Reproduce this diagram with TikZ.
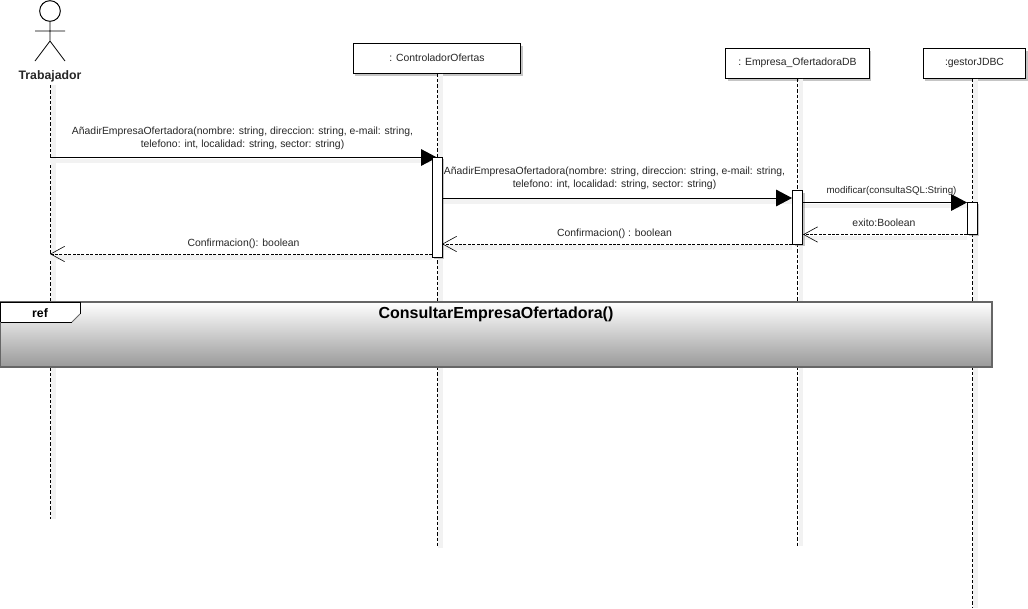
\documentclass[tikz,border=0pt]{standalone}
\usepackage{fontspec}
\setmainfont{Liberation Sans}
\usetikzlibrary{arrows.meta, shadows, positioning}

\tikzset{
    objeto/.style={draw=black, fill=white, line width=0.75pt, minimum height=22.5pt, font=\fontsize{7.8}{9}\selectfont, text=black!85,
        drop shadow={shadow xshift=1.5pt, shadow yshift=-2pt, fill=black!45, opacity=0.5}},
    activacion/.style={draw=black, fill=white, line width=0.75pt, minimum width=7.5pt, inner sep=0pt,
        drop shadow={shadow xshift=1.5pt, shadow yshift=-1.5pt, fill=black!45, opacity=0.5}},
    vida/.style={draw=black, line width=0.6pt, dash pattern=on 2.6pt off 1.4pt},
    sombra/.style={draw=black!5, line width=3.5pt},
    llamada/.style={draw=black, line width=0.75pt, -{Triangle[length=12pt, width=12.5pt]}},
    retorno/.style={draw=black, line width=0.6pt, dash pattern=on 2.2pt off 1.1pt, -{Straight Barb[length=10.5pt, width=11.5pt, line width=0.45pt]}},
    mensaje/.style={inner sep=0pt, align=center, font=\fontsize{7.8}{10}\selectfont, text=black!85},
}

\begin{document}
\begin{tikzpicture}[x=0.75pt, y=-0.75pt]
    \useasboundingbox (0, 0) rectangle (1028, 608);

    % lifeline ends
    \coordinate (finTrab) at (50, 519);
    \coordinate (finCtrl) at (437, 548);
    \coordinate (finEmp) at (797.5, 546);
    \coordinate (finGes) at (972, 608);

    % actor
    \node[circle, draw=black, fill=white, line width=0.75pt, minimum size=15.5pt, inner sep=0pt] (cabeza) at (50, 11) {};
    \coordinate (cadera) at (50, 41);
    \coordinate (brazoI) at (35, 31);
    \coordinate (brazoD) at (65, 31);
    \coordinate (pieI) at (35, 61);
    \coordinate (pieD) at (65, 61);
    \draw[line width=0.6pt] (cabeza) -- (cadera) (brazoI) -- (brazoD) (pieI) -- (cadera) -- (pieD);
    \node[font=\bfseries\fontsize{9.2}{10}\selectfont, text=black!85, inner sep=0pt] (trab) at (50, 76) {Trabajador};

    % objects
    \node[objeto, minimum width=125.5pt] (ctrl) at (437, 58) {: ControladorOfertas};
    \node[objeto, minimum width=107.5pt] (emp) at (797.5, 63) {: Empresa\_OfertadoraDB};
    \node[objeto, minimum width=77pt] (ges) at (974.5, 63) {:gestorJDBC\hspace{3pt}};

    % lifelines, shadow first
    \draw[sombra, transform canvas={xshift=2.5pt}] (trab.south) ++(0, 3) -- (finTrab);
    \draw[sombra, transform canvas={xshift=2.5pt}] (ctrl.south) -- (finCtrl);
    \draw[sombra, transform canvas={xshift=2.5pt}] (emp.south) -- (finEmp);
    \draw[sombra, transform canvas={xshift=2.5pt}] (ges.south -| finGes) -- (finGes);
    \draw[vida] (trab.south) ++(0, 3) -- (finTrab);
    \draw[vida] (ctrl.south) -- (finCtrl);
    \draw[vida] (emp.south) -- (finEmp);
    \draw[vida] (ges.south -| finGes) -- (finGes);

    % message ends
    \coordinate (m1a) at (50, 157.5);
    \coordinate (m1b) at (437, 157.5);
    \coordinate (m2a) at (442, 198);
    \coordinate (m2b) at (792, 198);
    \coordinate (m3a) at (803, 202.5);
    \coordinate (m3b) at (967, 202.5);
    \coordinate (m4a) at (967, 234.5);
    \coordinate (m4b) at (803, 234.5);
    \coordinate (m5a) at (792, 244);
    \coordinate (m5b) at (442, 244);
    \coordinate (m6a) at (432, 254);
    \coordinate (m6b) at (50, 254);

    % message shadows
    \begin{scope}[transform canvas={yshift=-2.5pt}]
        \foreach \desde/\hasta in {m1a/m1b, m2a/m2b, m3a/m3b, m4a/m4b, m5a/m5b, m6a/m6b}
            \draw[sombra] (\desde) -- (\hasta);
    \end{scope}

    \draw[llamada] (m1a) -- (m1b);

    % activations
    \node[activacion, minimum height=75pt] (actCtrl) at (437, 207) {};
    \node[activacion, minimum height=40pt] (actEmp) at (797.5, 217.5) {};
    \node[activacion, minimum height=24pt] (actGes) at (972, 218) {};

    \draw[llamada] (m2a) -- (m2b);
    \draw[llamada] (m3a) -- (m3b);
    \draw[retorno] (m4a) -- (m4b);
    \draw[retorno] (m5a) -- (m5b);
    \draw[retorno] (m6a) -- (m6b);

    % message labels
    \node[mensaje] (t1) at (242.5, 138) {AñadirEmpresaOfertadora(nombre: string, direccion: string, e-mail: string,\\telefono: int, localidad: string, sector: string)};
    \node[mensaje] (t2) at (614.5, 178.5) {AñadirEmpresaOfertadora(nombre: string, direccion: string, e-mail: string,\\telefono: int, localidad: string, sector: string)};
    \node[mensaje, font=\fontsize{7.3}{9}\selectfont] (t3) at (891.5, 190.5) {modificar(consultaSQL:String)};
    \node[mensaje] (t4) at (884, 223) {exito:Boolean};
    \node[mensaje] (t5) at (614.5, 233.5) {Confirmacion() : boolean};
    \node[mensaje] (t6) at (243.5, 243.5) {Confirmacion():  boolean};

    % ref fragment
    \node[draw=black!60, line width=0.9pt, top color=white, bottom color=black!40, minimum width=744pt, minimum height=48.75pt, inner sep=0pt] (frag) at (496, 334.5) {};
    \coordinate (tabA) at (0.5, 302);
    \coordinate (tabB) at (80, 302);
    \coordinate (tabC) at (80, 314);
    \coordinate (tabD) at (72, 322);
    \coordinate (tabE) at (0.5, 322);
    \fill[white] (tabA) -- (tabB) -- (tabC) -- (tabD) -- (tabE) -- cycle;
    \draw[line width=0.75pt] (tabE) -- (tabD);
    \draw[line width=0.75pt] (tabC) -- (tabB) -- (tabA) -- (tabE);
    \draw[black!60, line width=0.6pt] (tabC) -- (tabD);
    \node[font=\bfseries\fontsize{9.2}{10}\selectfont, inner sep=0pt] (refTab) at (40, 313) {ref};
    \node[font=\bfseries\fontsize{12}{14}\selectfont, inner sep=0pt] (refTit) at (496, 314.5) {ConsultarEmpresaOfertadora()};
\end{tikzpicture}
\end{document}
